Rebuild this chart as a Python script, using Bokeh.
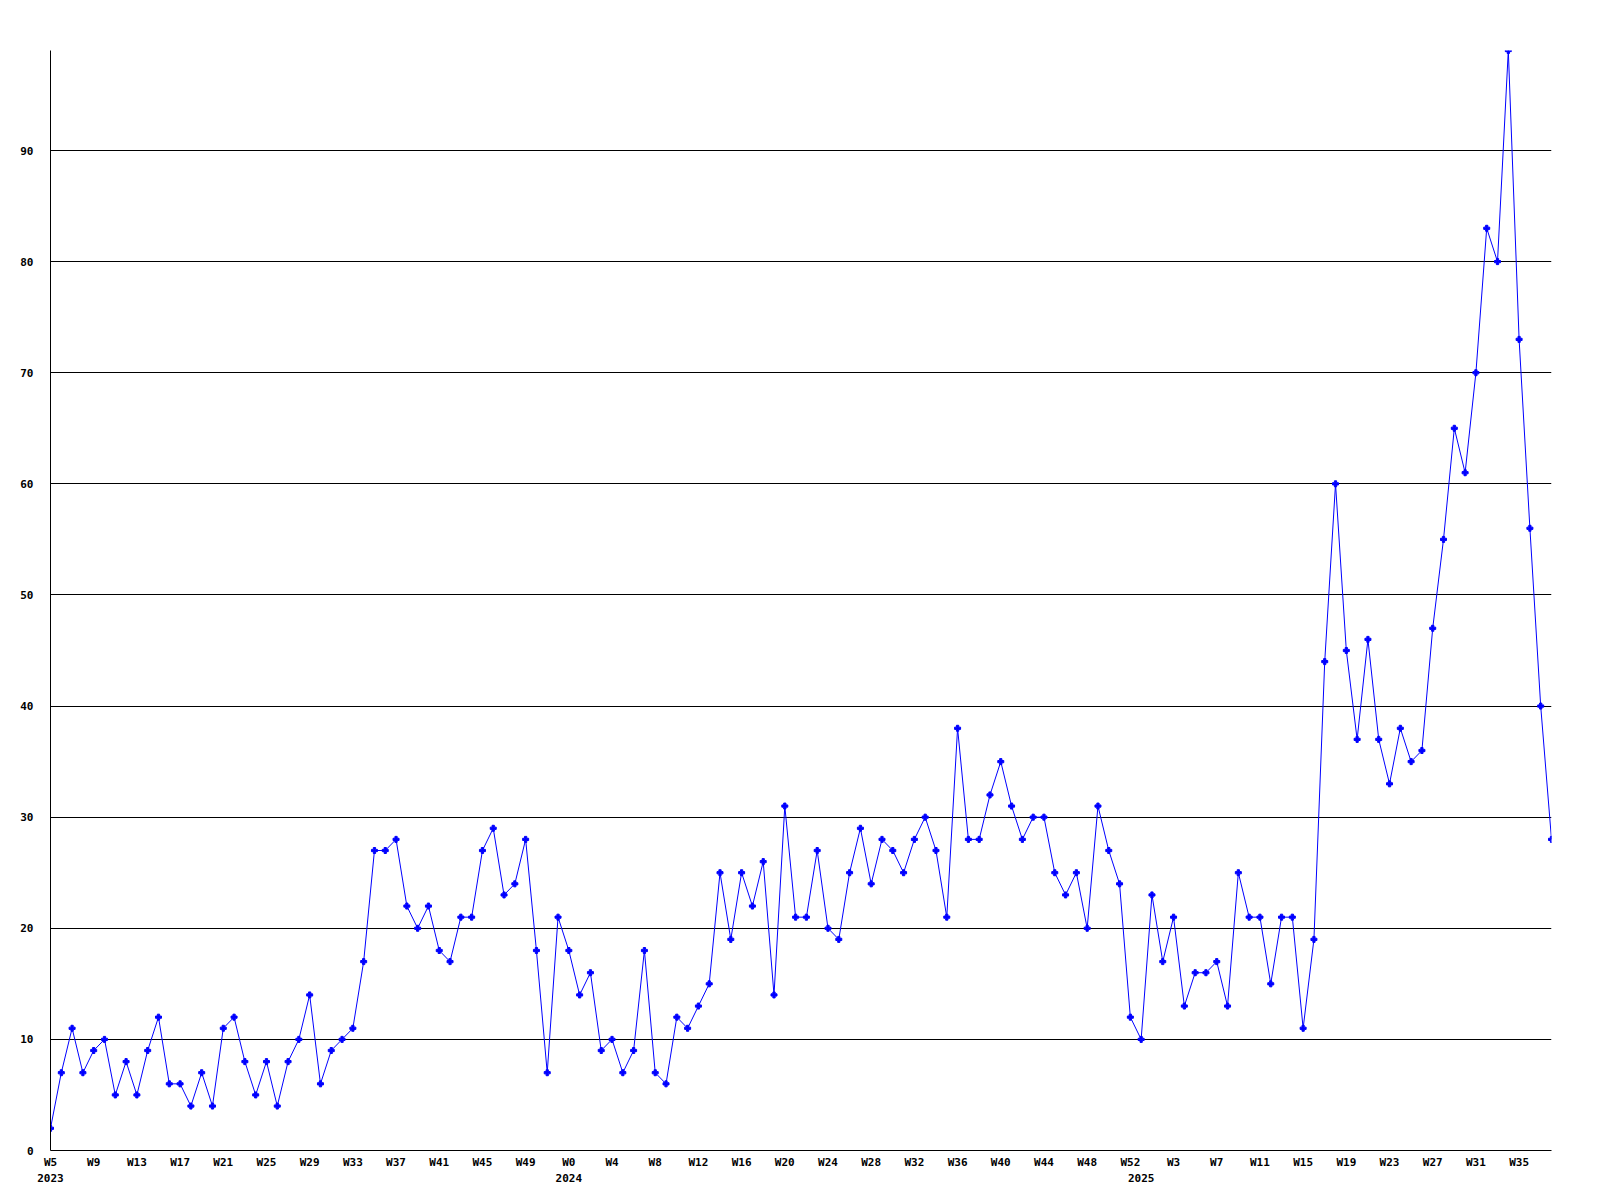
from bokeh.plotting import figure
from bokeh.models import Range1d, FixedTicker, ColumnDataSource
from bokeh.embed import file_html
from bokeh.resources import INLINE

# ---- data ----
weeks_2023 = list(range(5, 53))
weeks_2024 = list(range(0, 53))
weeks_2025 = list(range(0, 39))

values = [
    2, 7, 11, 7, 9, 10, 5, 8, 5, 9,
    12, 6, 6, 4, 7, 4, 11, 12, 8, 5,
    8, 4, 8, 10, 14, 6, 9, 10, 11, 17,
    27, 27, 28, 22, 20, 22, 18, 17, 21, 21,
    27, 29, 23, 24, 28, 18, 7, 21, 18, 14,
    16, 9, 10, 7, 9, 18, 7, 6, 12, 11,
    13, 15, 25, 19, 25, 22, 26, 14, 31, 21,
    21, 27, 20, 19, 25, 29, 24, 28, 27, 25,
    28, 30, 27, 21, 38, 28, 28, 32, 35, 31,
    28, 30, 30, 25, 23, 25, 20, 31, 27, 24,
    12, 10, 23, 17, 21, 13, 16, 16, 17, 13,
    25, 21, 21, 15, 21, 21, 11, 19, 44, 60,
    45, 37, 46, 37, 33, 38, 35, 36, 47, 55,
    65, 61, 70, 83, 80, 99, 73, 56, 40, 28,
]

y_ticks = [0, 10, 20, 30, 40, 50, 60, 70, 80, 90]
tick_every = 4

# ---- derived categories ----
periods = ([(2023, w) for w in weeks_2023] + [(2024, w) for w in weeks_2024]
           + [(2025, w) for w in weeks_2025])
idx = list(range(len(values)))

labels = {}
for i in idx:
    if i % tick_every == 0:
        labels[i] = "W%d" % periods[i][1]
prev = None
for i, (yr, w) in enumerate(periods):
    if yr != prev:
        labels[i] = labels.get(i, "") + "\n" + str(yr)
        prev = yr
x_ticks = sorted(labels)

FONT = "DejaVu Sans Mono"

p = figure(frame_width=1501, frame_height=1100,
           x_range=Range1d(0, len(values) - 1), y_range=Range1d(0, max(values)),
           output_backend="svg", toolbar_location=None,
           min_border_left=50, min_border_top=50, min_border_bottom=50, min_border_right=49)
p.outline_line_color = None
p.background_fill_color = "white"
p.border_fill_color = "white"

p.xgrid.grid_line_color = None
p.ygrid.ticker = FixedTicker(ticks=y_ticks)
p.ygrid.grid_line_color = "black"
p.ygrid.grid_line_alpha = 1.0
p.ygrid.grid_line_width = 1

for ax in (p.xaxis[0], p.yaxis[0]):
    ax.major_tick_out = 0
    ax.major_tick_in = 0
    ax.minor_tick_out = 0
    ax.minor_tick_in = 0
    ax.axis_line_color = "black"
    ax.major_label_text_font = FONT
    ax.major_label_text_font_style = "bold"
    ax.major_label_text_font_size = "11px"
    ax.major_label_text_color = "black"

p.yaxis.ticker = FixedTicker(ticks=y_ticks)
p.yaxis.major_label_standoff = 17

p.xaxis.ticker = FixedTicker(ticks=x_ticks)
p.xaxis.major_label_overrides = {i: labels[i] for i in x_ticks}
p.xaxis.major_label_standoff = 5
p.xaxis.major_label_text_line_height = 1.26

src = ColumnDataSource(dict(x=idx, y=values))
p.line("x", "y", source=src, line_color="#0000ff", line_width=1)
p.scatter("x", "y", source=src, marker="plus", size=6, color="#0000ff")

open("out.html", "w").write(file_html(p, INLINE))
